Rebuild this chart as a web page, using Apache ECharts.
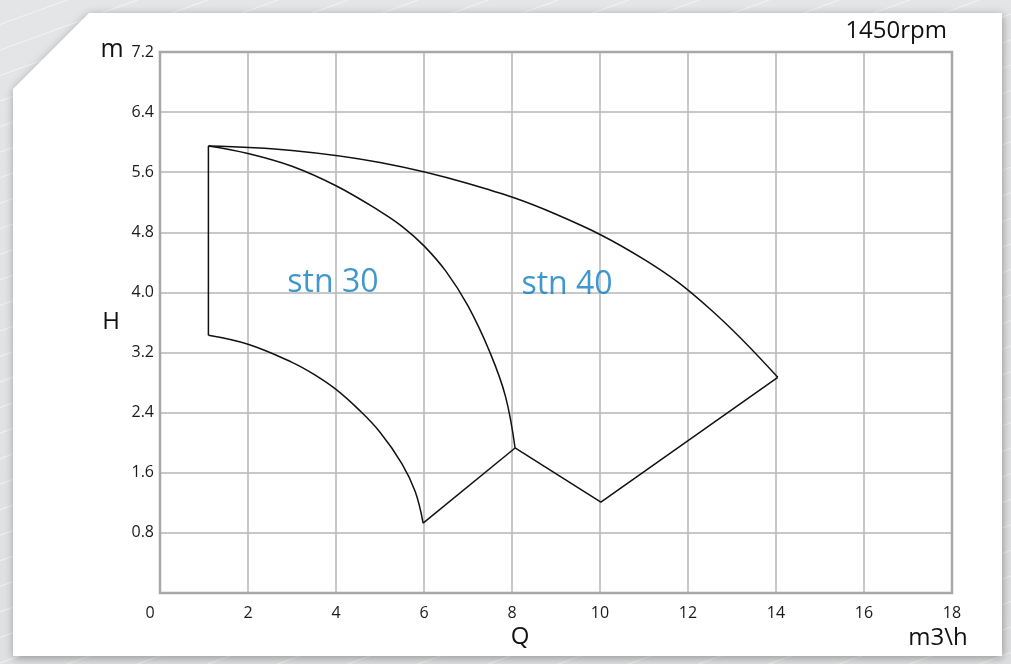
<!DOCTYPE html>
<html>
<head>
<meta charset="utf-8">
<script src="https://cdn.jsdelivr.net/npm/echarts@6/dist/echarts.min.js"></script>
<style>
  html, body { margin: 0; padding: 0; }
  body {
    width: 1011px; height: 664px; overflow: hidden;
    background:
      repeating-linear-gradient(160deg, rgba(255,255,255,0.0) 0px, rgba(255,255,255,0.0) 22px, rgba(255,255,255,0.55) 23px, rgba(255,255,255,0.0) 24px),
      linear-gradient(180deg, #e4e5e6 0%, #dfe0e1 100%);
  }
  #chart { width: 1011px; height: 664px; }
</style>
</head>
<body>
<div id="chart"></div>
<script>
// ---- data ----
const xTicks = [0, 2, 4, 6, 8, 10, 12, 14, 16, 18];
const yTicks = [0.8, 1.6, 2.4, 3.2, 4.0, 4.8, 5.6, 6.4, 7.2];
const leftEdge = [[1.1, 3.43], [1.1, 5.95]];
const stn30Upper = [[1.1, 5.95], [2, 5.85], [3, 5.68], [4, 5.42], [5, 5.08], [5.5, 4.88], [6, 4.62], [6.5, 4.28], [7, 3.82], [7.5, 3.2], [7.85, 2.62], [8.07, 1.93]];
const stn30Lower = [[1.1, 3.43], [2, 3.31], [3, 3.07], [3.5, 2.91], [4, 2.71], [4.5, 2.45], [5, 2.14], [5.5, 1.72], [5.8, 1.35], [5.98, 0.93]];
const stn30Bottom = [[5.98, 0.93], [8.07, 1.93]];
const stn40Upper = [[1.1, 5.95], [3, 5.89], [5, 5.73], [7, 5.45], [9, 5.04], [11, 4.44], [12.5, 3.78], [14.04, 2.87]];
const stn40Bottom = [[8.07, 1.93], [10.02, 1.21], [14.04, 2.87]];
const modelNames = ['stn 30', 'stn 40'];
const modelLabelPos = [[3.93, 4.13], [9.25, 4.1]];

const chart = echarts.init(document.getElementById('chart'), null, { renderer: 'canvas' });

const lineStyle = { color: '#111', width: 1.5 };
function curve(data, smooth) {
  return {
    type: 'line', data: data, smooth: smooth, showSymbol: false, symbol: 'none',
    lineStyle: lineStyle, silent: true, z: 5, animation: false
  };
}

const font = '"Open Sans", "Noto Sans", sans-serif';

chart.setOption({
  animation: false,
  textStyle: { fontFamily: font },
  grid: {
    left: 160, right: 59, top: 52, bottom: 71,
    show: true, borderColor: '#a8a8aa', borderWidth: 2.5, backgroundColor: 'transparent', z: 1
  },
  xAxis: {
    type: 'value', min: 0, max: 18, interval: 2,
    axisLine: { show: false }, axisTick: { show: false },
    splitLine: { show: true, lineStyle: { color: '#b6b6ba', width: 1.5 } },
    axisLabel: {
      margin: 12, color: '#1a1a1a', fontSize: 16, fontFamily: font,
      formatter: function (v) { return xTicks.indexOf(v) === 0 ? '{z|0}' : String(v); },
      rich: { z: { fontSize: 16, fontFamily: font, color: '#1a1a1a', padding: [0, 20, 0, 0] } }
    }
  },
  yAxis: {
    type: 'value', min: 0, max: 7.2, interval: 0.8,
    axisLine: { show: false }, axisTick: { show: false },
    splitLine: { show: true, lineStyle: { color: '#b6b6ba', width: 1.5 } },
    axisLabel: {
      margin: 6, color: '#1a1a1a', fontSize: 16, fontFamily: font,
      formatter: function (v) {
        const t = yTicks.find(function (y) { return Math.abs(y - v) < 1e-6; });
        return t === undefined ? '' : t.toFixed(1);
      }
    }
  },
  graphic: [
    {
      type: 'polygon', z: -100, silent: true,
      shape: { points: [[89, 13], [1002, 13], [1002, 656], [13, 656], [13, 89]] },
      style: { fill: '#ffffff', shadowBlur: 10, shadowColor: 'rgba(0,0,0,0.35)', shadowOffsetX: 1, shadowOffsetY: 2 }
    },
    { type: 'text', z: 10, x: 947, y: 31, style: { text: '1450rpm', fontSize: 24, fontFamily: font, fill: '#111', align: 'right', verticalAlign: 'middle' } },
    { type: 'text', z: 10, x: 112, y: 50, style: { text: 'm', fontSize: 25, fontFamily: font, fill: '#111', align: 'center', verticalAlign: 'middle' } },
    { type: 'text', z: 10, x: 111, y: 322, style: { text: 'H', fontSize: 24, fontFamily: font, fill: '#111', align: 'center', verticalAlign: 'middle' } },
    { type: 'text', z: 10, x: 520, y: 637, style: { text: 'Q', fontSize: 24, fontFamily: font, fill: '#111', align: 'center', verticalAlign: 'middle' } },
    { type: 'text', z: 10, x: 938, y: 638, style: { text: 'm3\\h', fontSize: 24, fontFamily: font, fill: '#111', align: 'center', verticalAlign: 'middle' } }
  ],
  series: [
    curve(leftEdge, false),
    curve(stn30Upper, 0.4),
    curve(stn30Lower, 0.4),
    curve(stn30Bottom, false),
    curve(stn40Upper, 0.4),
    curve(stn40Bottom, false),
    {
      type: 'scatter', symbolSize: 0, silent: true, z: 6,
      data: modelLabelPos.map(function (p, i) { return { value: p, name: modelNames[i] }; }),
      label: {
        show: true, position: 'inside', formatter: '{b}',
        fontSize: 32, fontFamily: font, color: '#0f7dbf'
      }
    }
  ]
});
</script>
</body>
</html>
